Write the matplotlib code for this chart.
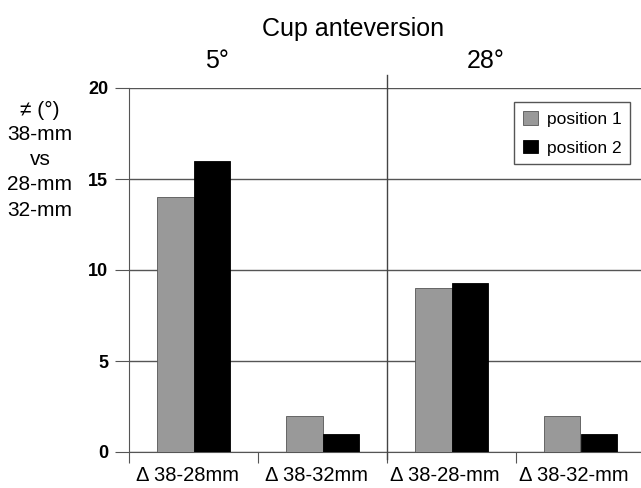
import numpy as np
import matplotlib.pyplot as plt

plt.rcParams['font.family'] = ['Liberation Sans', 'DejaVu Sans']

categories = ['Δ 38-28mm', 'Δ 38-32mm', 'Δ 38-28-mm', 'Δ 38-32-mm']
position1 = [14, 2, 9.0, 2]
position2 = [16, 1, 9.3, 1]
groups = ['5°', '28°']
yticks = [0, 5, 10, 15, 20]

fig = plt.figure(figsize=(6.41, 4.88), dpi=100)
ax = fig.add_axes([129 / 641, 36 / 488, 516 / 641, 364 / 488])

x = np.arange(len(categories))
w = 0.285
ax.bar(x - w / 2, position1, w, color='#999999', edgecolor='#555555', linewidth=0.6,
       label='position 1', zorder=3)
ax.bar(x + w / 2, position2, w, color='black', edgecolor='black', linewidth=0.6,
       label='position 2', zorder=3)

ax.set_xlim(-0.5, 3.5)
ax.set_ylim(0, 20)
ax.set_yticks(yticks)
ax.set_yticklabels([str(t) for t in yticks], fontweight='bold', fontsize=13)
ax.yaxis.grid(True, color='#555555', linewidth=1.0, zorder=0)

# category boundary ticks along the bottom
ax.set_xticks([-0.5, 0.5, 1.5, 2.5])
ax.set_xticklabels([])
for xi, lab in zip(x, categories):
    ax.text(xi - 0.05, -1.28, lab, ha='center', va='center', fontsize=14.5)
ax.tick_params(axis='x', length=8, color='#555555', direction='out')
ax.tick_params(axis='y', length=10, color='#555555', direction='out', pad=5)

for s in ['top', 'right']:
    ax.spines[s].set_visible(False)
ax.spines['left'].set_color('#555555')
ax.spines['bottom'].set_color('#555555')

# separator between anteversion groups
ax.plot([1.5, 1.5], [-0.4, 20.7], color='#444444', linewidth=1.0, clip_on=False, zorder=4)

ax.text(1.236, 22.86, 'Cup anteversion', ha='center', va='baseline', fontsize=18)
ax.text(0.182, 21.1, groups[0], ha='center', va='baseline', fontsize=18)
ax.text(2.267, 21.1, groups[1], ha='center', va='baseline', fontsize=18)

leg = ax.legend(loc='upper right', bbox_to_anchor=(0.971, 0.9615), borderaxespad=0,
                fontsize=12.5, handlelength=0.85, handleheight=0.85, handletextpad=0.5,
                fancybox=False, edgecolor='#555555', framealpha=1, borderpad=0.5,
                labelspacing=0.75)
leg.get_frame().set_linewidth(1.0)

ylab = ['≠ (°)', '38-mm', 'vs', '28-mm', '32-mm']
for i, t in enumerate(ylab):
    fig.text(40 / 641, 1 - (110 + 25 * i) / 488, t, ha='center', va='center', fontsize=15)

fig.savefig('out.png', dpi=100)
